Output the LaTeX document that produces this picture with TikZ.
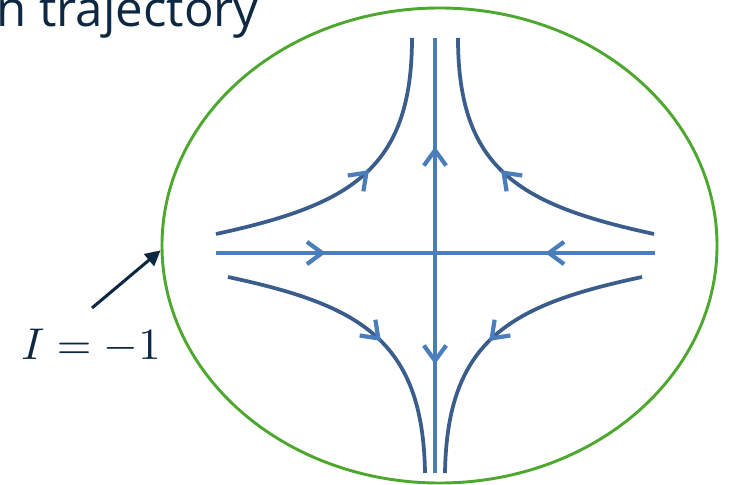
\documentclass[tikz,border=0pt]{standalone}
\usepackage{fontspec}
\newfontfamily\headfont{Open Sans}
\usetikzlibrary{arrows.meta,shapes.geometric,decorations.markings}
\definecolor{navy}{HTML}{0E2841}
\definecolor{orbitgreen}{HTML}{4EA72E}
\definecolor{flowdark}{HTML}{3A5D8C}
\definecolor{flowlight}{HTML}{4A7EBB}
\tikzset{
  >={Straight Barb[length=13pt,width=19pt,line width=3.6pt]},
  axis/.style={line width=3.3pt, flowlight},
  traj/.style={line width=3.2pt, flowdark, postaction=decorate,
    decoration={markings, mark=at position 0.54 with {\arrow[flowlight]{>}}}},
  inward/.style={postaction=decorate,
    decoration={markings, mark=at position 0.25 with {\arrow{>}},
      mark=at position 0.75 with {\arrowreversed{>}}}},
  outward/.style={postaction=decorate,
    decoration={markings, mark=at position 0.25 with {\arrowreversed{>}},
      mark=at position 0.75 with {\arrow{>}}}},
  pointer/.style={line width=2.6pt, navy, -{Triangle[length=13pt,width=13pt]}}
}
\begin{document}
\begin{tikzpicture}[x=0.03cm,y=-0.03cm]
\useasboundingbox (0,0) rectangle (729,485);
\node[anchor=base east, inner sep=0pt, text=navy, font=\headfont\fontsize{42}{44}\selectfont] (title) at (259,27) {n trajectory};
\node[draw=orbitgreen, line width=2.5pt, ellipse, minimum width=16.65cm, minimum height=14.25cm] (orbit) at (439.5,245.5) {};
% saddle axes
\draw[axis, inward] (216,253) -- (655,253);
\draw[axis, outward] (435,38) -- (435,473);
% trajectories, left half mirrored to the right
\foreach \s in {1,-1}{
  \begin{scope}[shift={(435,253)}, xscale=\s]
    \draw[traj] (-219,-19) .. controls (-85,-48) and (-23,-83) .. (-23,-215);
    \draw[traj] (-207,24) .. controls (-75,52) and (-12,87) .. (-10,220);
  \end{scope}
}
\node[scale=3.8, text=navy] (ilabel) at (91,346) {$I=-1$};
\coordinate (tail) at (92,308);
\draw[pointer] (tail) -- (orbit.181);
\end{tikzpicture}
\end{document}
